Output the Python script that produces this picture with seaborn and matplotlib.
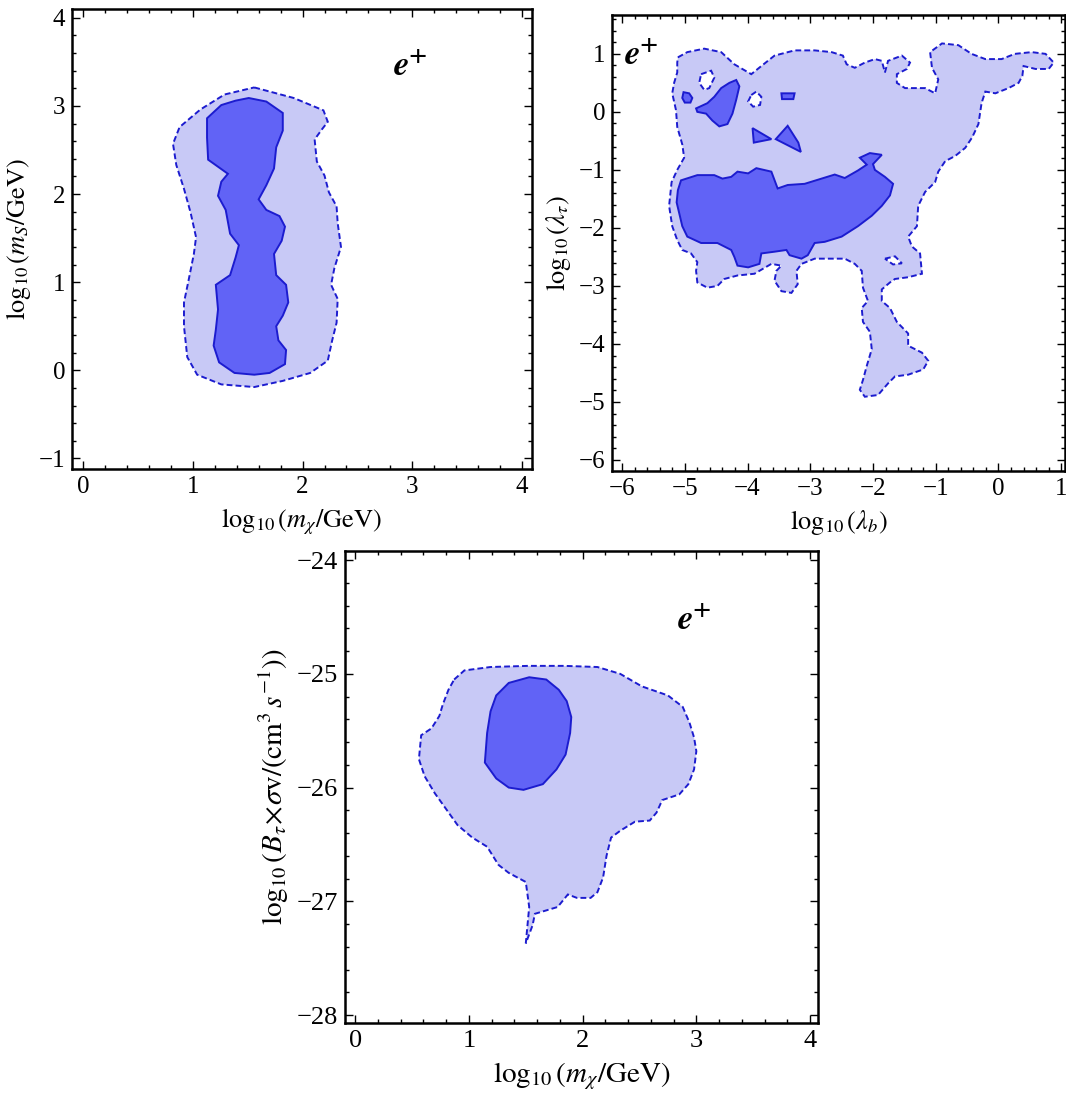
"""
e+ fit contours: three 2D credible-region panels (68% solid, 95% dashed).
"""

import matplotlib
matplotlib.use("Agg")
import matplotlib.pyplot as plt
from matplotlib.ticker import MultipleLocator
import seaborn as sns

# ── Colours ────────────────────────────────────────────────────────────────────
LIGHT = "#c8c9f6"
DARK  = "#6163f6"
EDGE  = "#1c1ccf"

# ── Panel 1: log10(m_chi) vs log10(m_S) ───────────────────────────────────────
p1_outer_x = [1.56, 1.92, 2.19, 2.23, 2.18, 2.11, 2.13, 2.20, 2.24, 2.31, 2.32, 2.35,
              2.29, 2.26, 2.32, 2.31, 2.27, 2.23, 2.07, 1.82, 1.56, 1.26, 1.04, 0.95,
              0.92, 0.92, 0.96, 1.01, 1.03, 0.98, 0.92, 0.85, 0.82, 0.88, 1.07, 1.29]
p1_outer_y = [3.21, 3.09, 2.95, 2.82, 2.74, 2.62, 2.37, 2.21, 2.02, 1.86, 1.67, 1.40,
              1.16, 0.97, 0.81, 0.54, 0.34, 0.11, -0.03, -0.12, -0.19, -0.16, -0.05, 0.15,
              0.50, 0.77, 1.01, 1.32, 1.51, 1.79, 2.06, 2.33, 2.57, 2.76, 2.96, 3.13]
p1_inner_x = [1.51, 1.67, 1.82, 1.82, 1.76, 1.74, 1.67, 1.60, 1.67, 1.79, 1.84, 1.81,
              1.74, 1.76, 1.85, 1.87, 1.82, 1.76, 1.78, 1.85, 1.84, 1.70, 1.56, 1.38,
              1.24, 1.19, 1.21, 1.23, 1.21, 1.34, 1.39, 1.42, 1.34, 1.30, 1.23, 1.26,
              1.32, 1.14, 1.13, 1.13, 1.26, 1.39]
p1_inner_y = [3.09, 3.05, 2.92, 2.72, 2.53, 2.29, 2.10, 1.94, 1.82, 1.75, 1.63, 1.47,
              1.32, 1.08, 0.97, 0.77, 0.62, 0.50, 0.34, 0.23, 0.07, -0.03, -0.05, -0.03,
              0.09, 0.28, 0.46, 0.69, 0.97, 1.08, 1.28, 1.42, 1.55, 1.82, 1.98, 2.14,
              2.23, 2.39, 2.64, 2.86, 3.01, 3.06]

# ── Panel 2: log10(lambda_b) vs log10(lambda_tau) ─────────────────────────────
p2_outer_x = [-5.11, -4.96, -4.69, -4.42, -4.21, -3.94, -3.78, -3.57, -3.25, -2.93, -2.66,
              -2.48, -2.42, -2.29, -2.13, -1.97, -1.86, -1.81, -1.76, -1.54, -1.41, -1.46,
              -1.62, -1.62, -1.49, -1.17, -1.01, -0.96, -1.06, -1.09, -0.90, -0.64, -0.43,
              -0.21, 0.05, 0.26, 0.53, 0.75, 0.88, 0.80, 0.59, 0.40, 0.38, 0.32, 0.16,
              -0.05, -0.21, -0.27, -0.32, -0.42, -0.53, -0.69, -0.85, -0.96, -1.01, -1.17,
              -1.28, -1.30, -1.44, -1.38, -1.25, -1.22, -1.44, -1.65, -1.73, -1.86, -1.86,
              -1.73, -1.62, -1.44, -1.44, -1.22, -1.12, -1.20, -1.44, -1.65, -1.76, -1.92,
              -2.13, -2.21, -2.16, -2.10, -2.02, -2.05, -2.16, -2.18, -2.08, -2.16, -2.18,
              -2.29, -2.45, -2.72, -2.93, -3.14, -3.22, -3.20, -3.30, -3.46, -3.57, -3.54,
              -3.46, -3.62, -3.89, -4.16, -4.37, -4.48, -4.64, -4.80, -4.82, -4.80, -4.90,
              -5.04, -5.12, -5.20, -5.25, -5.21, -5.12, -5.01, -5.04, -5.12, -5.14, -5.20,
              -5.17, -5.12, -5.12]
p2_outer_y = [0.94, 1.03, 1.09, 1.03, 0.82, 0.65, 0.79, 0.97, 1.06, 1.06, 1.03,
              0.97, 0.82, 0.76, 0.85, 0.91, 0.88, 0.68, 0.88, 0.97, 0.85, 0.74,
              0.65, 0.50, 0.41, 0.41, 0.32, 0.56, 0.76, 1.03, 1.18, 1.15, 1.00,
              0.91, 0.91, 1.00, 1.03, 1.00, 0.85, 0.74, 0.74, 0.79, 0.62, 0.50, 0.41,
              0.32, 0.35, 0.15, -0.21, -0.44, -0.62, -0.76, -0.85, -1.03, -1.21, -1.38,
              -1.62, -1.97, -2.15, -2.32, -2.44, -2.79, -2.85, -2.88, -2.94, -3.06, -3.26,
              -3.38, -3.62, -3.82, -4.03, -4.15, -4.29, -4.44, -4.53, -4.56, -4.68, -4.88,
              -4.91, -4.79, -4.62, -4.38, -4.09, -3.79, -3.62, -3.38, -3.26, -3.03, -2.74,
              -2.62, -2.53, -2.53, -2.53, -2.62, -2.74, -2.97, -3.12, -3.09, -2.91, -2.74,
              -2.65, -2.62, -2.79, -2.82, -2.88, -3.00, -3.03, -2.94, -2.74, -2.59, -2.44,
              -2.38, -2.21, -1.97, -1.62, -1.21, -1.00, -0.79, -0.56, -0.26, 0.03, 0.32,
              0.50, 0.68, 0.85]

# holes inside the 95% region
p2_holes_x = [[-4.74, -4.58, -4.53, -4.61, -4.69, -4.77],
              [-3.94, -3.86, -3.78, -3.80, -3.91, -3.99],
              [-1.81, -1.65, -1.54, -1.68]]
p2_holes_y = [[0.65, 0.71, 0.59, 0.41, 0.38, 0.50],
              [0.29, 0.35, 0.26, 0.12, 0.09, 0.18],
              [-2.53, -2.49, -2.61, -2.63]]

# 68% islands
p2_inner_x = [
    [-5.02, -4.93, -4.88, -4.91, -5.00, -5.04],
    [-4.82, -4.64, -4.53, -4.42, -4.29, -4.18, -4.13, -4.18, -4.24, -4.32, -4.45, -4.56,
     -4.66, -4.80],
    [-3.46, -3.25, -3.27, -3.45],
    [-3.92, -3.62, -3.90],
    [-3.36, -3.55, -3.15, -3.19],
    [-5.06, -4.80, -4.53, -4.40, -4.26, -4.16, -3.99, -3.86, -3.62, -3.52, -3.36, -3.09,
     -2.82, -2.61, -2.45, -2.24, -2.10, -2.21, -2.05, -1.86, -2.00, -1.97, -1.81, -1.68,
     -1.73, -1.86, -2.02, -2.24, -2.50, -2.77, -2.93, -3.04, -3.14, -3.33, -3.38, -3.57,
     -3.78, -3.81, -3.99, -4.16, -4.21, -4.26, -4.48, -4.74, -4.96, -5.04, -5.09, -5.13,
     -5.11],
]
p2_inner_y = [
    [0.34, 0.32, 0.24, 0.16, 0.16, 0.24],
    [0.06, 0.15, 0.26, 0.41, 0.50, 0.55, 0.44, 0.21, -0.03, -0.21, -0.25, -0.15,
     -0.03, 0.00],
    [0.32, 0.32, 0.22, 0.22],
    [-0.28, -0.47, -0.53],
    [-0.24, -0.47, -0.69, -0.53],
    [-1.18, -1.09, -1.09, -1.15, -1.12, -1.03, -1.06, -0.97, -1.03, -1.32, -1.26, -1.24,
     -1.15, -1.08, -1.14, -1.01, -0.91, -0.79, -0.71, -0.74, -0.90, -1.00, -1.12, -1.24,
     -1.44, -1.62, -1.79, -1.97, -2.15, -2.24, -2.26, -2.47, -2.53, -2.47, -2.38, -2.41,
     -2.44, -2.62, -2.68, -2.65, -2.50, -2.38, -2.26, -2.26, -2.15, -1.97, -1.74, -1.56,
     -1.35],
]

# ── Panel 3: log10(m_chi) vs log10(B_tau x sigma v) ───────────────────────────
p3_outer_x = [0.87, 0.96, 1.19, 1.52, 1.84, 2.13, 2.33, 2.52, 2.75, 2.88, 2.94, 2.98,
              3.00, 2.98, 2.93, 2.85, 2.70, 2.65, 2.59, 2.46, 2.33, 2.25, 2.21, 2.18,
              2.13, 2.07, 1.95, 1.87, 1.78, 1.68, 1.58, 1.56, 1.50, 1.53, 1.50, 1.35,
              1.26, 1.16, 1.03, 0.90, 0.80, 0.70, 0.61, 0.56, 0.58, 0.67, 0.74, 0.77,
              0.82]
p3_outer_y = [-25.05, -24.97, -24.94, -24.93, -24.93, -24.94, -25.00, -25.11, -25.19,
              -25.29, -25.43, -25.56, -25.68, -25.84, -25.97, -26.06, -26.11, -26.22,
              -26.29, -26.30, -26.38, -26.44, -26.60, -26.79, -26.92, -26.97, -26.97,
              -26.94, -27.05, -27.08, -27.11, -27.21, -27.37, -27.05, -26.83, -26.75,
              -26.68, -26.52, -26.44, -26.33, -26.19, -26.05, -25.90, -25.75, -25.54,
              -25.48, -25.37, -25.27, -25.14]
p3_inner_x = [1.53, 1.68, 1.79, 1.86, 1.90, 1.89, 1.85, 1.77, 1.65, 1.48, 1.35, 1.24,
              1.14, 1.16, 1.19, 1.24, 1.35]
p3_inner_y = [-25.03, -25.05, -25.14, -25.24, -25.38, -25.52, -25.71, -25.84, -25.97,
              -26.02, -26.00, -25.92, -25.78, -25.52, -25.33, -25.19, -25.08]


def _frame(ax, xlim, ylim, tick_fs):
    ax.set_xlim(*xlim)
    ax.set_ylim(*ylim)
    ax.xaxis.set_major_locator(MultipleLocator(1))
    ax.yaxis.set_major_locator(MultipleLocator(1))
    ax.xaxis.set_minor_locator(MultipleLocator(0.2))
    ax.yaxis.set_minor_locator(MultipleLocator(0.2))
    ax.tick_params(which="both", direction="in", top=True, right=True,
                   color="black", labelcolor="black", width=1.0,
                   labelsize=tick_fs, pad=5)
    ax.tick_params(which="major", length=6)
    ax.tick_params(which="minor", length=3)
    for s in ax.spines.values():
        s.set_linewidth(1.8)
        s.set_color("black")
    ax.grid(False)


def _region(ax, xs, ys, fill, ls, lw=1.4):
    ax.fill(xs, ys, facecolor=fill, edgecolor=EDGE, linestyle=ls, linewidth=lw)


def _label(ax, x, y):
    ax.text(x, y, r"$\mathbfit{e}^{\mathbf{+}}$", fontsize=25, color="black",
            ha="center", va="center")


def main():
    sns.set_style("ticks")
    plt.rcParams["font.family"] = ["Liberation Serif", "DejaVu Serif"]
    plt.rcParams["mathtext.fontset"] = "stix"
    plt.rcParams["text.color"] = "black"
    plt.rcParams["axes.labelcolor"] = "black"

    fig = plt.figure(figsize=(10.66, 10.99), dpi=100)
    W, H = 1066, 1099
    ax1 = fig.add_axes([72 / W, 1 - 469 / H, 460 / W, 460 / H])
    ax2 = fig.add_axes([612 / W, 1 - 471 / H, 453 / W, 456 / H])
    ax3 = fig.add_axes([345 / W, 1 - 1023 / H, 473 / W, 472 / H])

    dashed = (0, (3, 1.6))

    # panel 1
    _region(ax1, p1_outer_x, p1_outer_y, LIGHT, dashed)
    _region(ax1, p1_inner_x, p1_inner_y, DARK, "-")
    _frame(ax1, (-0.1, 4.09), (-1.12, 4.1), 18)
    _label(ax1, 2.98, 3.44)
    ax1.set_xlabel(r"$\log_{10}(m_\chi/\mathrm{GeV})$", fontsize=19, labelpad=6)
    ax1.set_ylabel(r"$\log_{10}(m_S/\mathrm{GeV})$", fontsize=19, labelpad=4)

    # panel 2
    _region(ax2, p2_outer_x, p2_outer_y, LIGHT, dashed)
    for hx, hy in zip(p2_holes_x, p2_holes_y):
        _region(ax2, hx, hy, "white", dashed)
    for ix, iy in zip(p2_inner_x, p2_inner_y):
        _region(ax2, ix, iy, DARK, "-")
    _frame(ax2, (-6.16, 1.06), (-6.19, 1.67), 18)
    _label(ax2, -5.7, 0.95)
    ax2.set_xlabel(r"$\log_{10}(\lambda_b)$", fontsize=19, labelpad=6)
    ax2.set_ylabel(r"$\log_{10}(\lambda_\tau)$", fontsize=19, labelpad=4)

    # panel 3
    _region(ax3, p3_outer_x, p3_outer_y, LIGHT, dashed)
    _region(ax3, p3_inner_x, p3_inner_y, DARK, "-")
    _frame(ax3, (-0.09, 4.07), (-28.07, -23.92), 19)
    _label(ax3, 2.98, -24.54)
    ax3.set_xlabel(r"$\log_{10}(m_\chi/\mathrm{GeV})$", fontsize=21, labelpad=6)
    ax3.set_ylabel(r"$\log_{10}(B_\tau\!\times\!\sigma\mathrm{v}/(\mathrm{cm}^3\,s^{-1}))$",
                   fontsize=21, labelpad=4)

    fig.savefig("out.png", dpi=100)


if __name__ == "__main__":
    main()
